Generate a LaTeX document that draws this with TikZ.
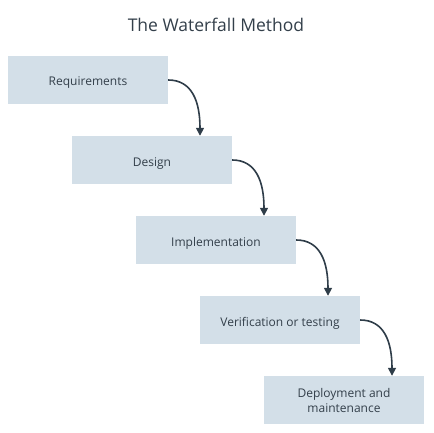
\documentclass[tikz,border=0pt]{standalone}
\usepackage{fontspec}
\setmainfont{Open Sans}
\usetikzlibrary{arrows.meta}
\definecolor{boxfill}{HTML}{D3DFE8}
\definecolor{ink}{HTML}{333F4A}
\definecolor{arrowink}{HTML}{2F3D49}
\begin{document}
\begin{tikzpicture}[x=1pt,y=-1pt,
  stage/.style={fill=boxfill, draw=none, minimum width=160pt, minimum height=48pt, inner sep=0pt,
    text=ink, font=\fontsize{12}{15}\selectfont, align=center, text height=12pt, text depth=0pt},
  stagetwo/.style={stage, text height=, text depth=-3pt},
  flow/.style={draw=arrowink, line width=1.6pt, -{Triangle[length=8pt,width=8pt]}}]
\useasboundingbox (0,0) rectangle (433,433);
\node[text=ink, font=\fontsize{17.5}{20}\selectfont] (title) at (216,25) {The Waterfall Method};
\node[stage] (s1) at (88,80) {Requirements};
\node[stage] (s2) at (152,160) {Design};
\node[stage] (s3) at (216,240) {Implementation};
\node[stage] (s4) at (280,320) {Verification or testing};
\node[stagetwo] (s5) at (344,400) {Deployment and\\maintenance};
\foreach \a/\b in {s1/s2,s2/s3,s3/s4,s4/s5}{
  \draw[flow] (\a.east) .. controls +(24pt,0pt) and +(0pt,34pt) .. ([xshift=48pt]\b.north);
}
\end{tikzpicture}
\end{document}
